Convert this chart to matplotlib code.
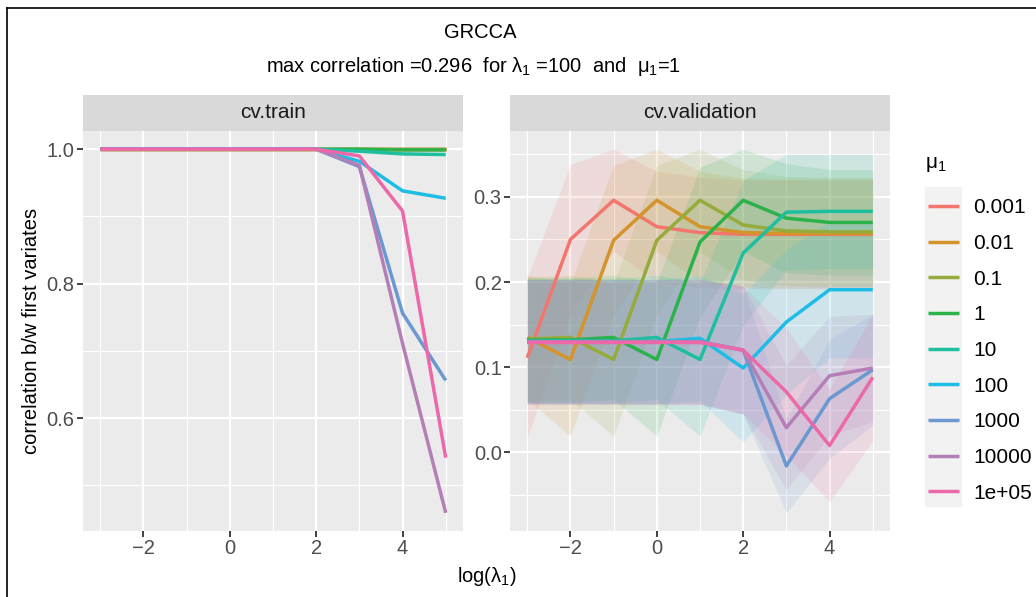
import matplotlib
matplotlib.use('Agg')
import matplotlib.pyplot as plt
from matplotlib.lines import Line2D
from matplotlib.patches import Rectangle
from matplotlib.ticker import FixedLocator

plt.rcParams['font.family'] = ['Liberation Sans', 'DejaVu Sans']

# ---------------- data ----------------
log_lambda = [-3, -2, -1, 0, 1, 2, 3, 4, 5]
mu_labels = ['0.001', '0.01', '0.1', '1', '10', '100', '1000', '10000', '1e+05']
colors = ['#F2766D', '#D4932B', '#95AB3B', '#2CB24B', '#1DBF9F',
          '#1EBDE6', '#6B98D0', '#B47FB6', '#EC68A9']

train_0001 = [1.0, 1.0, 1.0, 1.0, 1.0, 1.0, 1.0, 1.0, 1.0]
train_001 = [1.0, 1.0, 1.0, 1.0, 1.0, 1.0, 1.0, 1.0, 1.0]
train_01 = [1.0, 1.0, 1.0, 1.0, 1.0, 1.0, 1.0, 1.0, 1.0]
train_1 = [1.0, 1.0, 1.0, 1.0, 1.0, 1.0, 1.0, 0.999, 0.999]
train_10 = [1.0, 1.0, 1.0, 1.0, 1.0, 1.0, 0.997, 0.993, 0.992]
train_100 = [1.0, 1.0, 1.0, 1.0, 1.0, 1.0, 0.982, 0.938, 0.927]
train_1000 = [1.0, 1.0, 1.0, 1.0, 1.0, 1.0, 0.974, 0.756, 0.656]
train_10000 = [1.0, 1.0, 1.0, 1.0, 1.0, 1.0, 0.976, 0.711, 0.459]
train_1e5 = [1.0, 1.0, 1.0, 1.0, 1.0, 1.0, 0.990, 0.908, 0.541]

val_0001 = [0.111, 0.250, 0.296, 0.265, 0.258, 0.256, 0.256, 0.256, 0.256]
val_001 = [0.135, 0.109, 0.249, 0.296, 0.265, 0.258, 0.257, 0.257, 0.257]
val_01 = [0.133, 0.135, 0.109, 0.249, 0.296, 0.267, 0.260, 0.259, 0.259]
val_1 = [0.132, 0.132, 0.135, 0.109, 0.247, 0.296, 0.275, 0.270, 0.270]
val_10 = [0.131, 0.131, 0.131, 0.135, 0.109, 0.234, 0.282, 0.283, 0.283]
val_100 = [0.130, 0.130, 0.130, 0.130, 0.134, 0.099, 0.153, 0.191, 0.191]
val_1000 = [0.130, 0.130, 0.130, 0.130, 0.130, 0.120, -0.016, 0.063, 0.097]
val_10000 = [0.130, 0.130, 0.130, 0.130, 0.130, 0.120, 0.029, 0.090, 0.099]
val_1e5 = [0.129, 0.129, 0.129, 0.129, 0.129, 0.120, 0.071, 0.008, 0.088]

# half-width of the validation ribbons
sd_0001 = [0.094, 0.088, 0.060, 0.065, 0.065, 0.064, 0.064, 0.064, 0.064]
sd_001 = [0.073, 0.090, 0.088, 0.060, 0.065, 0.064, 0.064, 0.064, 0.064]
sd_01 = [0.073, 0.073, 0.090, 0.088, 0.060, 0.065, 0.064, 0.064, 0.064]
sd_1 = [0.073, 0.073, 0.073, 0.090, 0.088, 0.060, 0.064, 0.062, 0.062]
sd_10 = [0.073, 0.073, 0.073, 0.073, 0.090, 0.085, 0.068, 0.067, 0.067]
sd_100 = [0.073, 0.073, 0.073, 0.073, 0.073, 0.087, 0.085, 0.080, 0.080]
sd_1000 = [0.073, 0.073, 0.073, 0.073, 0.073, 0.075, 0.055, 0.070, 0.065]
sd_10000 = [0.073, 0.073, 0.073, 0.073, 0.073, 0.075, 0.073, 0.070, 0.063]
sd_1e5 = [0.073, 0.073, 0.073, 0.073, 0.073, 0.075, 0.075, 0.066, 0.074]

train = [train_0001, train_001, train_01, train_1, train_10, train_100,
         train_1000, train_10000, train_1e5]
val = [val_0001, val_001, val_01, val_1, val_10, val_100, val_1000,
       val_10000, val_1e5]
sds = [sd_0001, sd_001, sd_01, sd_1, sd_10, sd_100, sd_1000, sd_10000, sd_1e5]

# ---------------- layout ----------------
W, H = 1036, 597
fig = plt.figure(figsize=(W / 100, H / 100), dpi=100)
fig.patch.set_facecolor('white')

TICK = 14.5
LEG = 15
STRIP = 15
AXT = 14.5


def fx(px):
    return px / W


def fy(py):
    return 1 - py / H


axL = fig.add_axes([fx(83), fy(531), 380 / W, 400 / H])
axR = fig.add_axes([fx(510), fy(531), 380 / W, 400 / H])


def style(ax, yticks, yminor):
    ax.set_facecolor('#EBEBEB')
    for s in ax.spines.values():
        s.set_visible(False)
    ax.xaxis.set_major_locator(FixedLocator([-2, 0, 2, 4]))
    ax.xaxis.set_minor_locator(FixedLocator([-3, -1, 1, 3, 5]))
    ax.yaxis.set_major_locator(FixedLocator(yticks))
    ax.yaxis.set_minor_locator(FixedLocator(yminor))
    ax.grid(which='major', color='white', lw=1.6)
    ax.grid(which='minor', color='white', lw=0.8)
    ax.set_axisbelow(True)
    ax.tick_params(which='major', length=4, width=1.3, color='#333333',
                   labelsize=TICK, labelcolor='#4D4D4D', pad=2)
    ax.tick_params(which='minor', length=0)
    ax.set_xticklabels(['\u22122', '0', '2', '4'])


lines = []
for i in range(len(mu_labels)):
    axL.plot(log_lambda, train[i], color=colors[i], lw=2.5,
             solid_capstyle='butt', zorder=3 + i * 0.01)

for i in range(len(mu_labels)):
    lo = [v - s for v, s in zip(val[i], sds[i])]
    hi = [v + s for v, s in zip(val[i], sds[i])]
    axR.fill_between(log_lambda, lo, hi, color=colors[i], alpha=0.14,
                     lw=0, zorder=2)
for i in range(len(mu_labels)):
    ln, = axR.plot(log_lambda, val[i], color=colors[i], lw=2.5,
                   solid_capstyle='butt', zorder=3 + i * 0.01)
    lines.append(ln)

style(axL, [0.6, 0.8, 1.0], [0.5, 0.7, 0.9])
axL.set_yticklabels(['0.6', '0.8', '1.0'])
style(axR, [0.0, 0.1, 0.2, 0.3], [-0.05, 0.05, 0.15, 0.25, 0.35])
axR.set_yticklabels(['0.0', '0.1', '0.2', '0.3'])
axL.margins(x=0.05, y=0.05)
axR.margins(x=0.05, y=0.05)

# strips
for x0, lab in [(83, 'cv.train'), (510, 'cv.validation')]:
    s = fig.add_axes([fx(x0), fy(131), 380 / W, 36 / H])
    s.set_facecolor('#D9D9D9')
    s.set_xticks([])
    s.set_yticks([])
    for sp in s.spines.values():
        sp.set_visible(False)
    s.text(0.5, 0.5, lab, ha='center', va='center', fontsize=STRIP,
           color='#1A1A1A', transform=s.transAxes)

# titles
fig.text(fx(480), fy(33), 'GRCCA', ha='center', va='center', fontsize=14.5)
fig.text(fx(474), fy(67),
         r'max correlation =0.296  for $\mathregular{\lambda_1}$ =100  and  $\mathregular{\mu_1}$=1',
         ha='center', va='center', fontsize=14.5)
fig.text(fx(487), fy(577), r'log($\mathregular{\lambda_1}$)', ha='center',
         va='center', fontsize=AXT)
fig.text(fx(32), fy(331), 'correlation b/w first variates', ha='center',
         va='center', rotation=90, fontsize=AXT)

# legend
fig.patches.append(Rectangle((fx(925), fy(506)), 36 / W, 319 / H,
                             transform=fig.transFigure, color='#F2F2F2',
                             zorder=0))
fig.text(fx(925), fy(165), r'$\mathregular{\mu_1}$', ha='left', va='center',
         fontsize=LEG)
leg = fig.legend(lines, mu_labels, loc='upper left',
                 bbox_to_anchor=(fx(920), fy(190)),
                 frameon=False, fontsize=LEG,
                 handlelength=1.45, handletextpad=0.72, labelspacing=0.8,
                 alignment='left', borderaxespad=0)

# outer frame (left & top)
fig.add_artist(Line2D([fx(7), fx(7)], [0, fy(7.5)], color='black', lw=1.2))
fig.add_artist(Line2D([fx(7), 1], [fy(7.5), fy(7.5)], color='black', lw=1.2))

fig.savefig('out.png', dpi=100)
